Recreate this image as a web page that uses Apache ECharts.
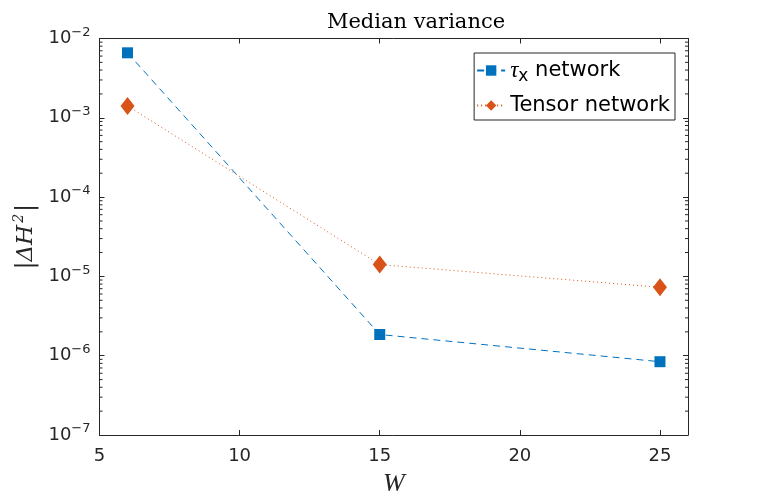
<!DOCTYPE html>
<html>
<head>
<meta charset="utf-8">
<script src="https://cdn.jsdelivr.net/npm/echarts@6/dist/echarts.min.js"></script>
<style>
  html, body { margin: 0; padding: 0; background: #fff; }
  #chart { width: 761px; height: 502px; }
</style>
</head>
<body>
<div id="chart"></div>
<script>
// data
var widths = [6, 15, 25];
var tauNetwork = [6.6e-3, 1.85e-6, 8.4e-7];
var tensorNetwork = [1.41e-3, 1.41e-5, 7.3e-6];
var decades = [-7, -6, -5, -4, -3]; // minor ticks 2..9 in each of these
var xTicks = [5, 10, 15, 20, 25];

var ink = '#262626';
var blue = '#0072BD';
var orange = '#D95319';

// minor log ticks, drawn as a custom series on both sides of the box
var minorData = [];
decades.forEach(function (d) {
  for (var k = 2; k <= 9; k++) {
    minorData.push([5, k * Math.pow(10, d)]);
  }
});

function supLabel(v) {
  var e = Math.round(Math.log(v) / Math.LN10);
  return '{b|10}{s|' + (e < 0 ? '\u2212' + (-e) : e) + '}';
}

var chart = echarts.init(document.getElementById('chart'));
var option = {
  animation: false,
  title: {
    text: 'Median variance',
    left: 411,
    top: 7,
    textAlign: 'center',
    textStyle: { fontFamily: 'DejaVu Serif', fontWeight: 'normal', fontSize: 21, color: '#000' }
  },
  grid: { left: 99.5, top: 38.5, right: 73, bottom: 66, containLabel: false },
  legend: {
    right: 86,
    top: 53,
    orient: 'vertical',
    itemGap: 10,
    itemWidth: 28,
    itemHeight: 13,
    padding: [6, 5, 4, 2],
    borderColor: ink,
    borderWidth: 1,
    backgroundColor: '#fff',
    data: ['tau', 'Tensor network'],
    formatter: function (name) {
      if (name === 'tau') return '{t|\u03C4}{x|x}{n| network}';
      return '{n|' + name + '}';
    },
    textStyle: {
      color: '#000',
      rich: {
        t: { fontFamily: 'Liberation Serif', fontStyle: 'italic', fontSize: 23 },
        x: { fontFamily: 'DejaVu Sans', fontSize: 17, padding: [12, 0, 0, 0] },
        n: { fontFamily: 'DejaVu Sans', fontSize: 21 }
      }
    }
  },
  xAxis: [{
    type: 'value',
    min: 5,
    max: 26,
    interval: 5,
    name: 'W',
    nameLocation: 'middle',
    nameGap: 36,
    nameTextStyle: { fontFamily: 'Liberation Serif', fontStyle: 'italic', fontSize: 26, color: ink },
    axisLine: { lineStyle: { color: ink, width: 1 } },
    axisTick: { inside: true, length: 5, lineStyle: { color: ink } },
    axisLabel: {
      color: ink, fontFamily: 'DejaVu Sans', fontSize: 18, margin: 12,
      formatter: function (v) { return xTicks.indexOf(v) >= 0 ? v : ''; }
    },
    splitLine: { show: false }
  }, {
    type: 'value',
    position: 'top',
    min: 5,
    max: 26,
    interval: 5,
    axisLine: { show: true, onZero: false, lineStyle: { color: ink, width: 1 } },
    axisTick: { inside: true, length: 5, lineStyle: { color: ink } },
    axisLabel: { show: false },
    splitLine: { show: false }
  }],
  yAxis: [{
    type: 'log',
    logBase: 10,
    min: 1e-7,
    max: 1e-2,
    name: '|{h|\u0394H}{s|2}|',
    nameLocation: 'middle',
    nameGap: 58,
    nameRotate: 90,
    nameTextStyle: {
      fontFamily: 'DejaVu Serif', fontSize: 24, color: ink,
      rich: {
        h: { fontFamily: 'DejaVu Serif', fontStyle: 'italic', fontSize: 23, color: ink },
        s: { fontFamily: 'DejaVu Serif', fontStyle: 'italic', fontSize: 14, color: ink, padding: [0, 2, 12, 2] }
      }
    },
    axisLine: { show: true, lineStyle: { color: ink, width: 1 } },
    axisTick: { show: true, inside: true, length: 5, lineStyle: { color: ink } },
    axisLabel: {
      color: ink, margin: 9,
      formatter: supLabel,
      rich: {
        b: { fontFamily: 'DejaVu Sans', fontSize: 18, color: ink },
        s: { fontFamily: 'DejaVu Sans', fontSize: 13, color: ink, padding: [0, 0, 12, 0] }
      }
    },
    splitLine: { show: false }
  }, {
    type: 'log',
    logBase: 10,
    position: 'right',
    min: 1e-7,
    max: 1e-2,
    axisLine: { show: true, onZero: false, lineStyle: { color: ink, width: 1 } },
    axisTick: { show: true, inside: true, length: 5, lineStyle: { color: ink } },
    axisLabel: { show: false },
    splitLine: { show: false }
  }],
  series: [{
    name: 'tau',
    type: 'line',
    data: widths.map(function (w, i) { return [w, tauNetwork[i]]; }),
    symbol: 'rect',
    symbolSize: 11,
    lineStyle: { color: blue, width: 1, type: [7, 5] },
    itemStyle: { color: blue },
    z: 3
  }, {
    name: 'Tensor network',
    type: 'line',
    data: widths.map(function (w, i) { return [w, tensorNetwork[i]]; }),
    symbol: 'diamond',
    symbolSize: [14, 18],
    lineStyle: { color: orange, width: 1, type: [1, 3] },
    itemStyle: { color: orange },
    z: 3
  }, {
    name: 'minor',
    type: 'custom',
    silent: true,
    data: minorData,
    renderItem: function (params, api) {
      var v = api.value(1);
      var l = api.coord([5, v]);
      var r = api.coord([26, v]);
      var st = { stroke: ink, lineWidth: 1 };
      return {
        type: 'group',
        children: [
          { type: 'line', shape: { x1: l[0], y1: l[1], x2: l[0] + 3, y2: l[1] }, style: st },
          { type: 'line', shape: { x1: r[0], y1: r[1], x2: r[0] - 3, y2: r[1] }, style: st }
        ]
      };
    },
    z: 1
  }]
};
chart.setOption(option);
</script>
</body>
</html>
